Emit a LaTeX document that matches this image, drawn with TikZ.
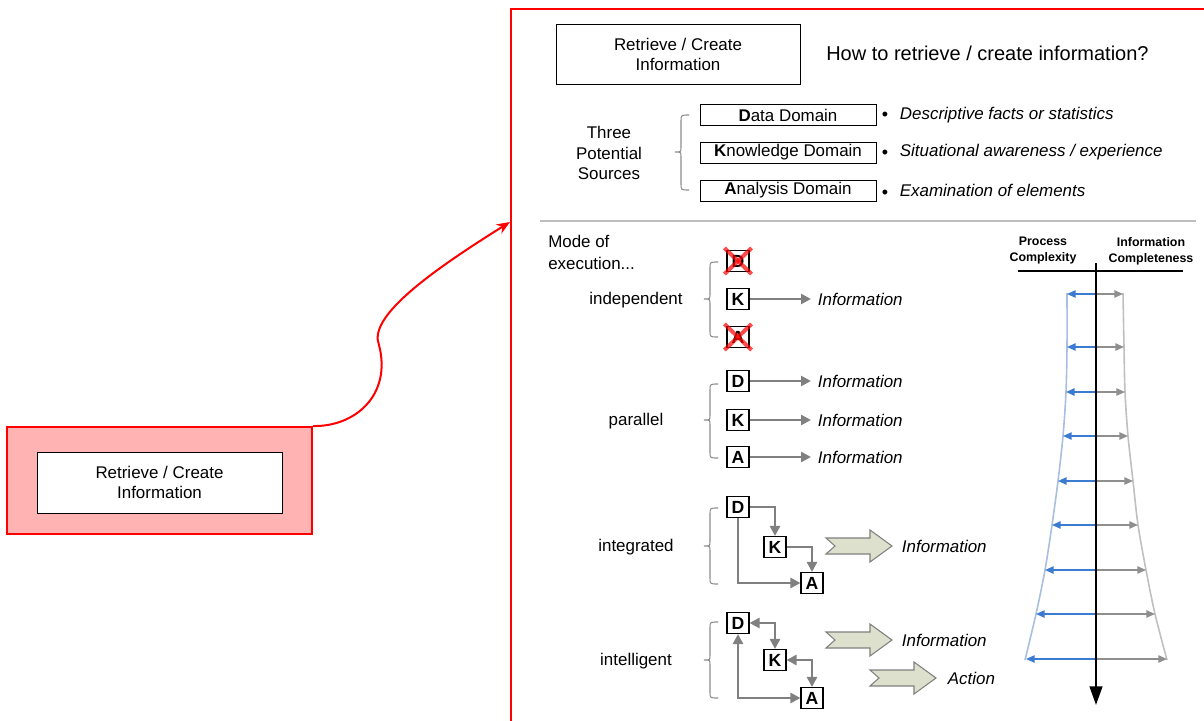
\documentclass[tikz,border=0pt]{standalone}
\usepackage{fontspec}
\setmainfont{Liberation Sans}
\usetikzlibrary{arrows.meta,calc}

\definecolor{panelred}{HTML}{FF0000}
\definecolor{pinkfill}{HTML}{FFB3B3}
\definecolor{flowgray}{HTML}{808080}
\definecolor{bracegray}{HTML}{8C8C8C}
\definecolor{sepgray}{HTML}{BFBFBF}
\definecolor{chevfill}{HTML}{DDE0CC}
\definecolor{pcblue}{HTML}{3C7BD2}
\definecolor{pcedge}{HTML}{A8BFDF}
\definecolor{icgray}{HTML}{8F8F8F}
\definecolor{icedge}{HTML}{C0C0C0}

% curly brace opening to the right: tip x, top y, tip y, bottom y
\newcommand\leftcurl[4]{%
  \draw[bracestyle] ({#1+14},#2) .. controls ({#1+6},#2) .. ({#1+6},{#2+6})
    -- ({#1+6},{#3-5}) .. controls ({#1+6},#3) .. (#1,#3)
    .. controls ({#1+6},#3) .. ({#1+6},{#3+5})
    -- ({#1+6},{#4-6}) .. controls ({#1+6},#4) .. ({#1+14},#4);}

\begin{document}
\begin{tikzpicture}[x=0.75pt,y=-0.75pt,
  every node/.style={font=\fontsize{12.7}{15}\selectfont},
  txt/.style={inner sep=0pt, align=center},
  info/.style={font=\fontsize{12.7}{15}\selectfont\itshape, anchor=west, inner sep=2pt},
  plainbox/.style={draw=black, line width=0.75pt, fill=white, align=center, inner sep=0pt},
  letterbox/.style={draw=black, line width=0.8pt, fill=white, minimum width=16.5pt,
    minimum height=15.75pt, inner sep=0pt, font=\fontsize{13.2}{15}\selectfont\bfseries},
  tipg/.tip={Triangle[length=7.5pt,width=7.5pt]},
  flow/.style={draw=flowgray, line width=2pt, -tipg},
  flowboth/.style={draw=flowgray, line width=2pt, tipg-tipg},
  bracestyle/.style={draw=bracegray, line width=0.8pt},
  cross/.style={draw=red, opacity=0.7, line width=3pt},
  chevstyle/.style={draw=flowgray, fill=chevfill, line width=0.8pt},
  pcarrow/.style={draw=pcblue, line width=1.2pt, -{Triangle[length=6.5pt,width=5.5pt]}},
  icarrow/.style={draw=icgray, line width=1.2pt, -{Triangle[length=6.5pt,width=5.5pt]}},
  hdr/.style={align=center, inner sep=0pt, font=\fontsize{9.3}{12}\selectfont\bfseries},
  bul/.style={inner sep=0pt, anchor=base, font=\fontsize{13.5}{15}\selectfont},
  chevron/.pic={\draw[chevstyle] (0,-8) -- (44,-8) -- (44,-16) -- (66,0) -- (44,16)
    -- (44,8) -- (0,8) -- (9,0) -- cycle;}
]
\useasboundingbox (0,0) rectangle (1204,721);

% ---- left: selected step ----
\node[draw=panelred, line width=1.5pt, fill=pinkfill, minimum width=228.75pt,
  minimum height=80.25pt] (leftouter) at (159.5,480.5) {};
\node[plainbox, minimum width=183.75pt, minimum height=45.75pt] (leftinner)
  at (159.5,482.5) {Retrieve / Create\\Information};

% ---- right: detail panel ----
\draw[panelred, line width=1.5pt] (511,730) -- (511,9) -- (1215,9);
\coordinate (paneltip) at (510,222);
\draw[panelred, line width=1.5pt, -{Stealth[length=10pt,width=8pt]}]
  (leftouter.north east) .. controls (355,427) and (392,395) .. (379,345)
  .. controls (368,318) and (425,275) .. (paneltip);

\node[plainbox, minimum width=183pt, minimum height=45pt] (topbox) at (678,54)
  {Retrieve / Create\\Information};
\node[anchor=west, inner sep=0pt, font=\fontsize{15}{18}\selectfont] (question)
  at (826,53) {How to retrieve / create information?};

% three sources
\node[txt, font=\fontsize{12.7}{15.4}\selectfont] (sources) at (609,153)
  {Three\\Potential\\Sources};
\leftcurl{675}{115}{152}{190}
\node[plainbox, minimum width=132pt, minimum height=15.75pt] (dd) at (788,115)
  {\textbf{D}ata Domain};
\node[plainbox, minimum width=132pt, minimum height=15.75pt] (kd) at (788,152.5)
  {\textbf{K}nowledge Domain};
\node[plainbox, minimum width=132pt, minimum height=15.75pt] (ad) at (788,190.5)
  {\textbf{A}nalysis Domain};
\node[info] (t1) at (897,115) {Descriptive facts or statistics};
\node[info] (t2) at (897,152.5) {Situational awareness / experience};
\node[info] (t3) at (897,190.5) {Examination of elements};
\node[bul] (b1) at (t1.base -| 885,0) {\raisebox{-1.2pt}{\textbullet}};
\node[bul] (b2) at (t2.base -| 885,0) {\raisebox{-1.2pt}{\textbullet}};
\node[bul] (b3) at (t3.base -| 885,0) {\raisebox{-1.2pt}{\textbullet}};

% separator
\draw[sepgray, line width=2.2pt] (540,221) -- (1196,221);

% modes of execution
\node[anchor=north west, align=left, inner sep=0pt,
  font=\fontsize{12.7}{16.5}\selectfont] (mode) at (548,235) {Mode of\\execution...};

% independent
\node[txt] (lind) at (636,300) {independent};
\leftcurl{704}{262}{299}{337}
\node[letterbox] (iD) at (738,261) {D};
\node[letterbox] (iK) at (738,299) {K};
\node[letterbox] (iA) at (738,337) {A};
\draw[cross] ($(iD.north west)+(-2,-2)$) -- ($(iD.south east)+(2,2)$);
\draw[cross] ($(iD.north east)+(2,-2)$) -- ($(iD.south west)+(-2,2)$);
\draw[cross] ($(iA.north west)+(-2,-2)$) -- ($(iA.south east)+(2,2)$);
\draw[cross] ($(iA.north east)+(2,-2)$) -- ($(iA.south west)+(-2,2)$);
\node[info] (iKinfo) at (815,299) {Information};
\draw[flow, shorten >=3pt] (iK.east) -- (iKinfo.west);

% parallel
\node[txt] (lpar) at (636,421) {parallel};
\leftcurl{704}{384}{420}{458}
\node[letterbox] (pD) at (738,381) {D};
\node[letterbox] (pK) at (738,420) {K};
\node[letterbox] (pA) at (738,457) {A};
\node[info] (pDinfo) at (815,381) {Information};
\node[info] (pKinfo) at (815,420) {Information};
\node[info] (pAinfo) at (815,457) {Information};
\draw[flow, shorten >=3pt] (pD.east) -- (pDinfo.west);
\draw[flow, shorten >=3pt] (pK.east) -- (pKinfo.west);
\draw[flow, shorten >=3pt] (pA.east) -- (pAinfo.west);

% integrated
\node[txt] (lint) at (636,547) {integrated};
\leftcurl{704}{508}{546}{584}
\node[letterbox] (gD) at (738,507) {D};
\node[letterbox] (gK) at (775,547) {K};
\node[letterbox] (gA) at (812,583) {A};
\draw[flow] (gD.east) -| (gK.north);
\draw[flow] (gK.east) -| (gA.north);
\draw[flow] (gD.south) |- (gA.west);
\pic at (826,546) {chevron};
\node[info] (gInfo) at (899,546) {Information};

% intelligent
\node[txt] (lintel) at (636,661) {intelligent};
\leftcurl{704}{622}{660}{698}
\node[letterbox] (nD) at (738,623) {D};
\node[letterbox] (nK) at (775,660) {K};
\node[letterbox] (nA) at (812,698) {A};
\draw[flowboth] (nD.east) -| (nK.north);
\draw[flowboth] (nK.east) -| (nA.north);
\draw[flowboth] (nD.south) |- (nA.west);
\pic at (826,640) {chevron};
\node[info] (nInfo) at (899,640) {Information};
\pic at (870,678) {chevron};
\node[info] (nAct) at (945,678) {Action};

% complexity / completeness funnel
\node[hdr] (hpc) at (1043,251) {Process\\Complexity};
\node[hdr] (hic) at (1151,251) {Information\\Completeness};
\coordinate (hl) at (1018,271);
\coordinate (hr) at (1183,271);
\draw[black, line width=0.8pt] (hl) -- (hr);
\draw[pcedge, line width=1.2pt] plot[smooth] coordinates {(1067,293) (1067,347)
  (1066,392) (1063,436) (1058,481) (1052,525) (1045,570) (1036,614) (1025,660)};
\draw[icedge, line width=1.2pt] plot[smooth] coordinates {(1123,293) (1124,347)
  (1125,392) (1128,436) (1133,481) (1138,525) (1146,570) (1155,614) (1167,660)};
\foreach \i/\yy/\lx/\rx in {1/294/1067/1123, 2/347/1067/1124, 3/392/1066/1125,
  4/436/1063/1128, 5/481/1058/1133, 6/525/1052/1138, 7/570/1045/1146,
  8/614/1036/1155, 9/659/1026/1167}{
  \coordinate (rc\i) at (1096,\yy);
  \coordinate (rl\i) at (\lx,\yy);
  \coordinate (rr\i) at (\rx,\yy);
  \draw[pcarrow] (rc\i) -- (rl\i);
  \draw[icarrow] (rc\i) -- (rr\i);
}
\coordinate (axtop) at (1096,263);
\coordinate (axbot) at (1096,705);
\draw[black, line width=1.7pt, -{Triangle[length=14pt,width=9.5pt]}] (axtop) -- (axbot);
\end{tikzpicture}
\end{document}
